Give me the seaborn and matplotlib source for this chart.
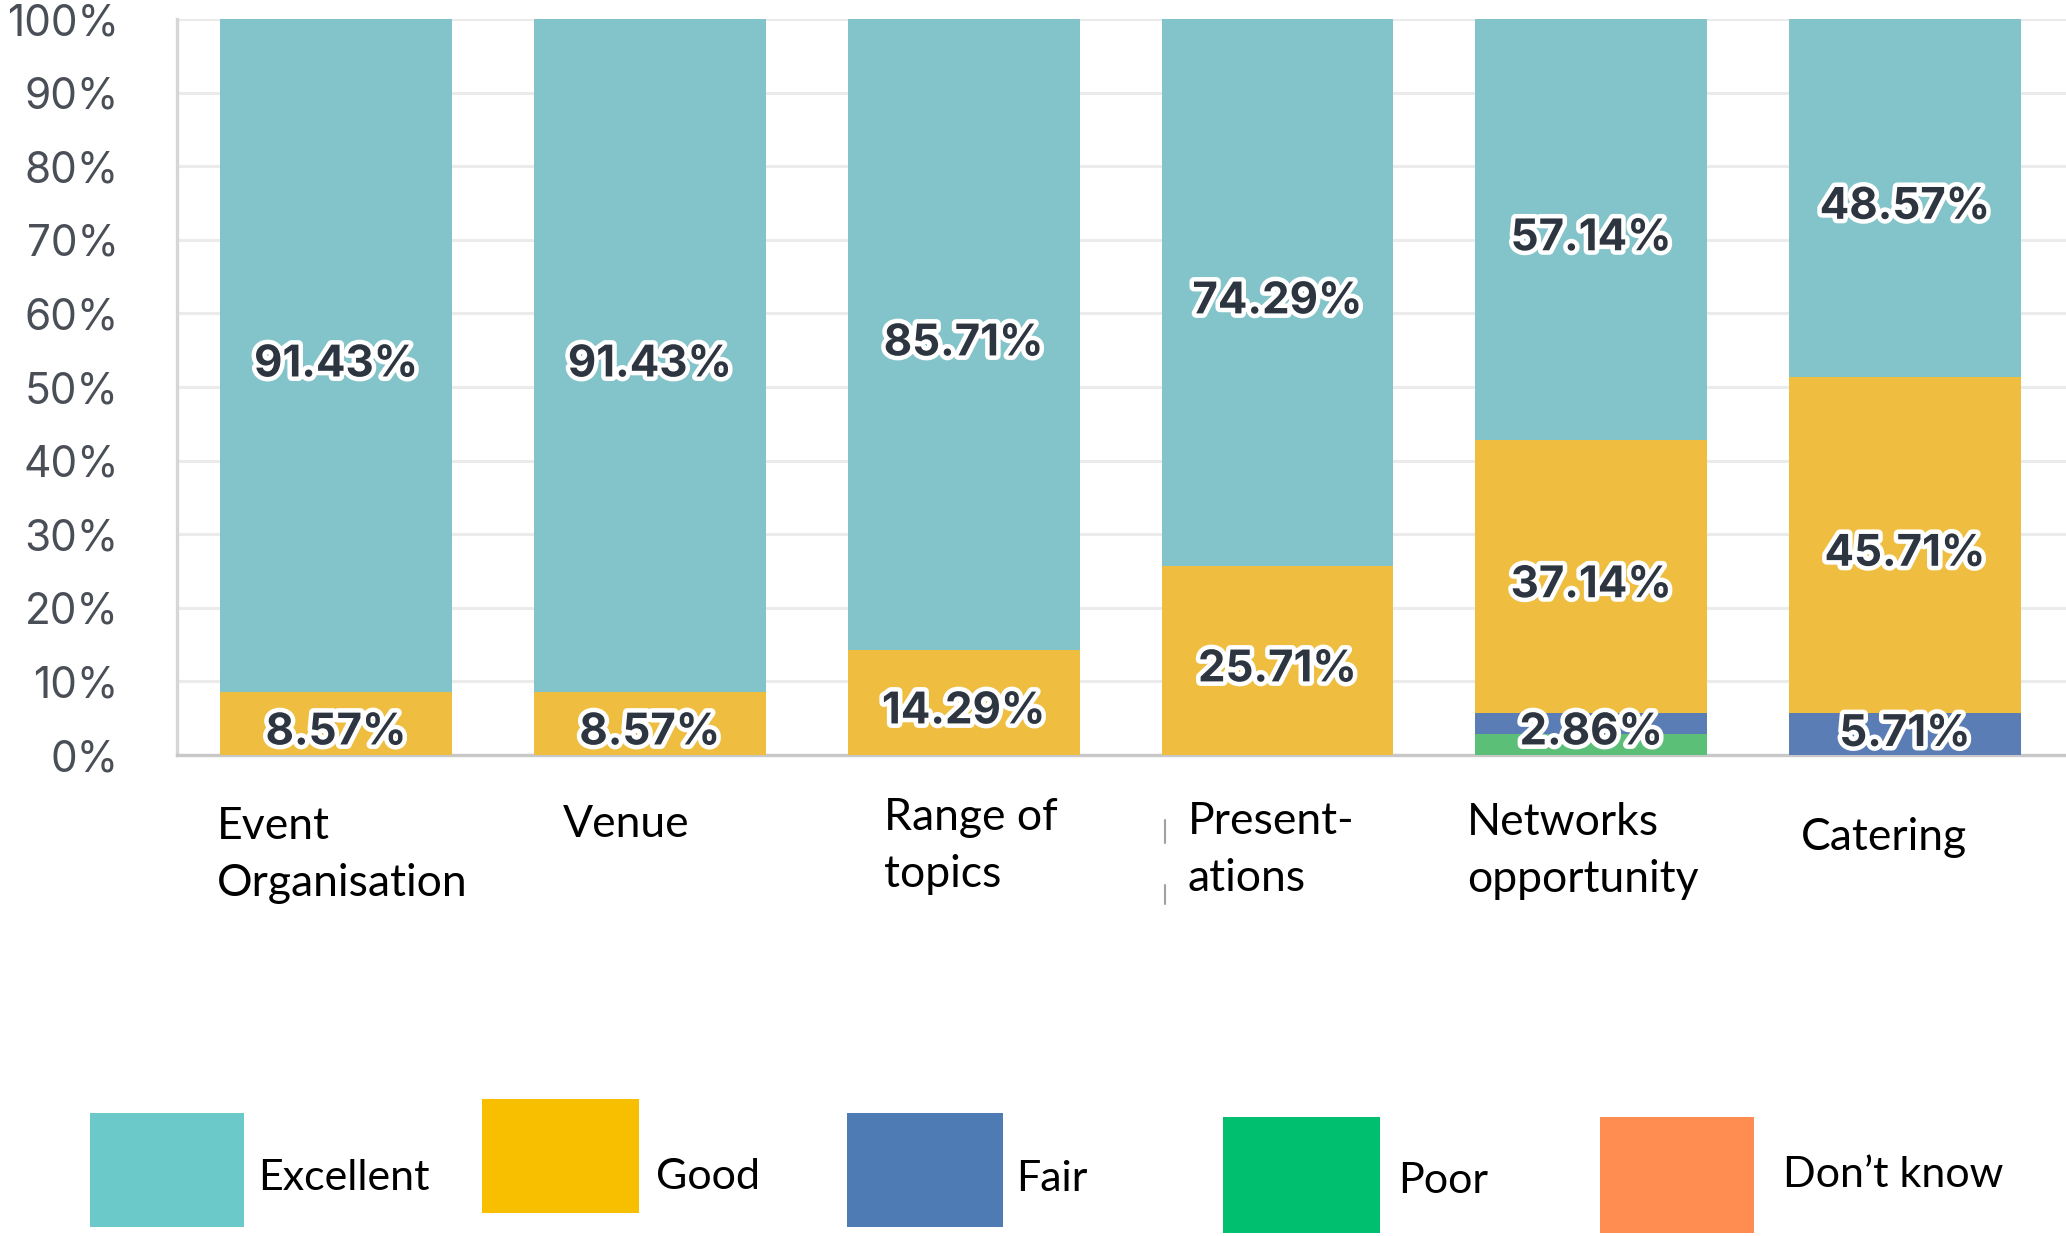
import matplotlib
matplotlib.use("Agg")
import matplotlib.pyplot as plt
import matplotlib.patheffects as pe
import matplotlib.transforms as mtransforms
from matplotlib.patches import Rectangle
from matplotlib.lines import Line2D
import pandas as pd
import seaborn as sns

# ---- data -------------------------------------------------------------
categories = ["Event Organisation", "Venue", "Range of topics",
              "Presentations", "Networks opportunity", "Catering"]
category_labels = ["Event\nOrganisation", "Venue", "Range of\ntopics",
                   "Present-\nations", "Networks\nopportunity", "Catering"]
ratings = ["Excellent", "Good", "Fair", "Poor", "Don’t know"]

excellent = [91.43, 91.43, 85.71, 74.29, 57.14, 48.57]
good = [8.57, 8.57, 14.29, 25.71, 37.14, 45.71]
fair = [0.0, 0.0, 0.0, 0.0, 2.86, 5.71]
poor = [0.0, 0.0, 0.0, 0.0, 2.86, 0.0]
dont_know = [0.0, 0.0, 0.0, 0.0, 0.0, 0.0]

y_ticks = [0, 10, 20, 30, 40, 50, 60, 70, 80, 90, 100]

# ---- styling ----------------------------------------------------------
bar_colors = {"Excellent": "#82c4c9", "Good": "#efbe40", "Fair": "#5b7db6",
              "Poor": "#5cbf78", "Don’t know": "#f28c5a"}
legend_colors = {"Excellent": "#6cc9c9", "Good": "#f8bf00", "Fair": "#4f7bb5",
                 "Poor": "#00bf6f", "Don’t know": "#ff8c50"}

sns.set_theme(style="white")
plt.rcParams["font.family"] = ["Inter", "DejaVu Sans"]

W, H = 2066, 1236
fig = plt.figure(figsize=(W / 100, H / 100), dpi=100)
ax = fig.add_axes([177 / W, 1 - 755 / H, 1 - 177 / W, (755 - 19) / H])

series = {"Excellent": excellent, "Good": good, "Fair": fair,
          "Poor": poor, "Don’t know": dont_know}
stack_order = ["Don’t know", "Poor", "Fair", "Good", "Excellent"]  # bottom -> top

rows = []
for i, cat in enumerate(categories):
    base = 0.0
    for r in stack_order:
        v = series[r][i]
        rows.append({"category": cat, "rating": r, "value": v,
                     "base": base, "top": base + v})
        base += v
df = pd.DataFrame(rows)

bar_width = 0.739
# stacked bars: draw cumulative tops from the highest layer down
for z, r in enumerate(reversed(stack_order)):
    sub = df[df["rating"] == r]
    sns.barplot(data=sub, x="category", y="top", order=categories,
                color=bar_colors[r], saturation=1, width=bar_width,
                ax=ax, zorder=2 + z, linewidth=0)

# value labels in the middle of each segment, kept clear of the baseline
stroke = [pe.withStroke(linewidth=6.5, foreground="white")]
label_ratings = ["Excellent", "Good", "Fair"]
label_shift = 0.68     # nudge labels slightly below the segment centre
label_floor = 3.4      # lowest label position so text stays above the axis
for _, row in df.iterrows():
    if row["rating"] not in label_ratings or row["value"] <= 0:
        continue
    i = categories.index(row["category"])
    ypos = max(row["base"] + row["value"] / 2 - label_shift, label_floor)
    ax.text(i, ypos, f"{row['value']:.2f}%",
            ha="center", va="center_baseline",
            fontsize=31.5, fontweight="bold", color="#2d3540", zorder=20,
            path_effects=stroke)

# axes
ax.set_xlim(-0.507, 5.513)
ax.set_ylim(0, 100)
ax.set_yticks(y_ticks, labels=[f"{t}%" for t in y_ticks])
ax.tick_params(axis="y", length=0, pad=42, labelsize=30.5, labelcolor="#4a4f57")
ax.tick_params(axis="x", length=0, labelbottom=False)
ax.set_xlabel("")
ax.set_ylabel("")
ax.yaxis.grid(True, color="#ebebeb", linewidth=2.2)
ax.set_axisbelow(True)
for s in ["top", "right"]:
    ax.spines[s].set_visible(False)
ax.spines["left"].set_color("#d6d6d6")
ax.spines["left"].set_linewidth(2.4)
ax.spines["bottom"].set_color("#c8c8c8")
ax.spines["bottom"].set_linewidth(2.4)

# category names below the bars (left aligned, two lines max)
label_dx = [-0.379, -0.277, -0.255, -0.287, -0.395, -0.331]
label_dy = [-0.0965, -0.0938, -0.0843, -0.0897, -0.0911, -0.1115]
line_step = 57 / 736
trans = mtransforms.blended_transform_factory(ax.transData, ax.transAxes)
for i, lab in enumerate(category_labels):
    for k, line in enumerate(lab.split("\n")):
        ax.text(i + label_dx[i], label_dy[i] - k * line_step, line,
                transform=trans, ha="left", va="center", fontsize=32,
                family=["Lato", "DejaVu Sans"], color="black", clip_on=False)

# small separator marks beside "Present-ations"
for y0, y1 in [(820, 843), (885, 904)]:
    fig.add_artist(Line2D([1165 / W, 1165 / W], [1 - y0 / H, 1 - y1 / H],
                          color="#a0a0a0", linewidth=1.5))

# legend: colour boxes with names
legend_boxes = {"Excellent": (90, 1113, 244, 1227),
                "Good": (482, 1099, 639, 1213),
                "Fair": (847, 1113, 1003, 1227),
                "Poor": (1223, 1117, 1380, 1233),
                "Don’t know": (1600, 1117, 1754, 1233)}
legend_text = {"Excellent": (258, 1178), "Good": (656, 1177),
               "Fair": (1016, 1179), "Poor": (1398, 1181),
               "Don’t know": (1783, 1175)}
for r in ratings:
    x0, y0, x1, y1 = legend_boxes[r]
    fig.add_artist(Rectangle((x0 / W, 1 - y1 / H), (x1 - x0) / W,
                             (y1 - y0) / H, transform=fig.transFigure,
                             facecolor=legend_colors[r], edgecolor="none"))
    tx, ty = legend_text[r]
    fig.text(tx / W, 1 - ty / H, r, ha="left", va="center", fontsize=31,
             family=["Lato", "DejaVu Sans"], color="black")

fig.savefig("out.png", dpi=100, facecolor="white")
